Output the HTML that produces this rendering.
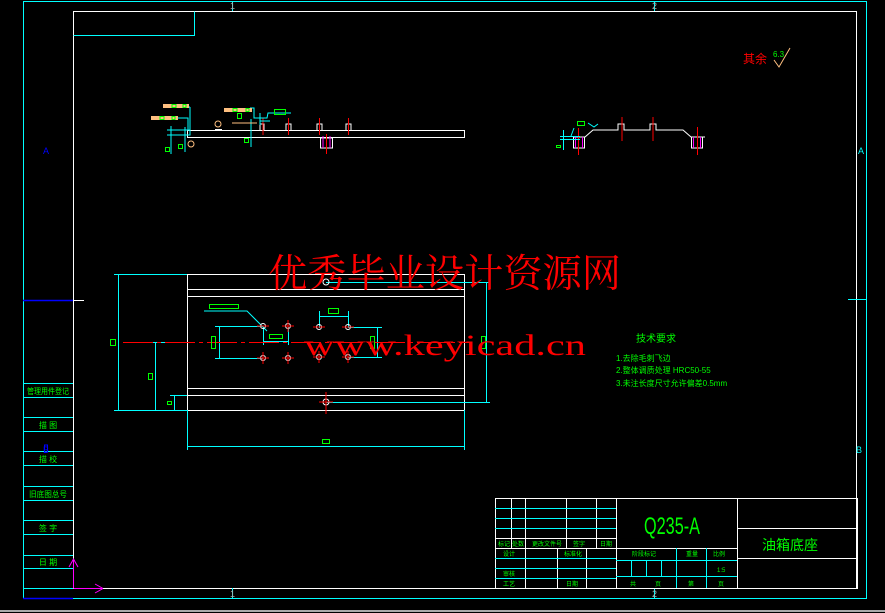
<!DOCTYPE html>
<html><head><meta charset="utf-8"><style>
html,body{margin:0;padding:0;background:#000;width:885px;height:613px;overflow:hidden}
svg{display:block;font-family:"Liberation Sans","Noto Sans CJK SC",sans-serif}
</style></head><body>
<svg width="885" height="613" viewBox="0 0 885 613" xmlns="http://www.w3.org/2000/svg">
<rect width="885" height="613" fill="#000"/>
<rect x="23.5" y="1.5" width="843" height="597" fill="none" stroke="#00ffff" stroke-width="1"/>
<rect x="73.5" y="11.5" width="783" height="577" fill="none" stroke="#fff" stroke-width="1"/>
<polyline points="73.5,35.5 194.5,35.5 194.5,11.5" fill="none" stroke="#00ffff"/>
<line x1="0" y1="611" x2="885" y2="611" stroke="#aaa" stroke-width="2"/>
<line x1="23" y1="300.5" x2="73" y2="300.5" stroke="#0000ff" stroke-width="1.5"/>
<line x1="73" y1="300.5" x2="84" y2="300.5" stroke="#fff"/>
<line x1="848" y1="299.5" x2="867" y2="299.5" stroke="#00ffff"/>
<line x1="232.5" y1="1" x2="232.5" y2="11" stroke="#00ffff"/>
<line x1="654.5" y1="1" x2="654.5" y2="11" stroke="#00ffff"/>
<line x1="232.5" y1="588" x2="232.5" y2="598" stroke="#00ffff"/>
<line x1="654.5" y1="588" x2="654.5" y2="598" stroke="#00ffff"/>
<line x1="23" y1="598.5" x2="73" y2="598.5" stroke="#0000ff" stroke-width="1.5"/>
<g fill="#aaa" font-size="9"><text x="230" y="9">1</text><text x="652" y="9">2</text><text x="230" y="597">1</text><text x="652" y="597">2</text></g>
<g fill="#0000ff" font-size="9"><text x="43" y="154">A</text><text x="43" y="453">B</text></g>
<g fill="#00ffff" font-size="9"><text x="858" y="154">A</text><text x="856" y="453">B</text></g>
<g stroke="#00ffff" fill="none">
<line x1="23" y1="383.5" x2="73" y2="383.5"/><line x1="23" y1="397.5" x2="73" y2="397.5"/>
<line x1="23" y1="417.5" x2="73" y2="417.5"/><line x1="23" y1="431.5" x2="73" y2="431.5"/>
<line x1="23" y1="451.5" x2="73" y2="451.5"/><line x1="23" y1="465.5" x2="73" y2="465.5"/>
<line x1="23" y1="486.5" x2="73" y2="486.5"/><line x1="23" y1="500.5" x2="73" y2="500.5"/>
<line x1="23" y1="520.5" x2="73" y2="520.5"/><line x1="23" y1="534.5" x2="73" y2="534.5"/>
<line x1="23" y1="555.5" x2="73" y2="555.5"/><line x1="23" y1="568.5" x2="73" y2="568.5"/>
<line x1="23" y1="588.5" x2="73" y2="588.5"/>
</g>
<g fill="#00ff00" font-size="8" text-anchor="middle">
<text x="48" y="394" textLength="42" lengthAdjust="spacingAndGlyphs">管理用件登记</text><text x="48" y="428">描  图</text><text x="48" y="462">描  校</text>
<text x="48" y="497" textLength="38" lengthAdjust="spacingAndGlyphs">旧底图总号</text><text x="48" y="531">签  字</text><text x="48" y="565">日  期</text>
</g>
<rect x="44.5" y="445" width="3" height="7" fill="none" stroke="#0000ff"/>
<g stroke="#ff00ff" fill="none"><line x1="73.5" y1="560" x2="73.5" y2="588"/><line x1="73.5" y1="588.5" x2="103" y2="588.5"/>
<polyline points="69,567 73.5,559 78,567"/><polyline points="95,584 103,588.5 95,593"/></g>
<line x1="103" y1="588.5" x2="115" y2="588.5" stroke="#fff"/>
<text x="743" y="63" fill="#ff0000" font-size="12">其余</text>
<text x="773" y="57" fill="#00ff00" font-size="8">6.3</text>
<polyline points="774,60 779,67 790,48" fill="none" stroke="#ffc080"/>
<g stroke="#fff" fill="none">
<rect x="187.5" y="130.5" width="277" height="7"/>
<polyline points="260,130.5 260,124 264,124 264,130.5"/>
<polyline points="286,130.5 286,124 291,124 291,130.5"/>
<polyline points="317,130.5 317,124 322,124 322,130.5"/>
<polyline points="346,130.5 346,124 351,124 351,130.5"/>
<rect x="320.5" y="138" width="12" height="10"/>
</g>
<g stroke="#ff0000"><line x1="263" y1="118" x2="263" y2="135"/><line x1="288.5" y1="118" x2="288.5" y2="135"/><line x1="319.5" y1="118" x2="319.5" y2="135"/><line x1="348.5" y1="118" x2="348.5" y2="135"/><line x1="326.5" y1="134" x2="326.5" y2="154"/></g>
<g stroke="#ff00ff"><line x1="323" y1="136" x2="323" y2="148"/><line x1="330" y1="136" x2="330" y2="148"/></g>
<g stroke="#00ffff" fill="none">
<polyline points="190,107 190,135 167,135"/><line x1="167" y1="130" x2="190" y2="130"/>
<line x1="171" y1="126" x2="171" y2="154"/><line x1="185" y1="127" x2="185" y2="152"/>
<polyline points="190,107 176,107"/>
<polyline points="188,130 188,118 178,118"/><line x1="168" y1="118" x2="188" y2="118"/>
<polyline points="250,108 254,108 254,118 267,118 268,113 291,113"/>
<line x1="251" y1="119" x2="251" y2="147"/><line x1="260" y1="113" x2="260" y2="125"/>
<line x1="260" y1="121" x2="270" y2="121"/>
</g>
<g fill="#ffc080"><rect x="163" y="104" width="26" height="4"/><rect x="151" y="116" width="27" height="4"/><rect x="224" y="108" width="28" height="4"/></g>
<g fill="none" stroke="#00ff00"><rect x="172" y="104.5" width="4" height="3"/><rect x="183" y="104.5" width="3" height="3"/><rect x="160" y="116.5" width="4" height="3"/><rect x="172" y="116.5" width="3" height="3"/><rect x="233" y="108.5" width="4" height="3"/><rect x="246" y="108.5" width="3" height="3"/>
<rect x="274.5" y="109.5" width="11" height="5"/><rect x="237.5" y="113.5" width="4" height="5"/><rect x="165.5" y="147.5" width="4" height="4"/><rect x="178.5" y="144.5" width="4" height="4"/><rect x="244.5" y="138.5" width="4" height="4"/></g>
<line x1="232" y1="123" x2="257" y2="123" stroke="#ffc080"/>
<circle cx="218" cy="124" r="3" fill="none" stroke="#ffc080"/><line x1="215" y1="129.5" x2="222" y2="129.5" stroke="#fff"/>
<circle cx="191" cy="144" r="3" fill="none" stroke="#ffc080"/>
<g stroke="#fff" fill="none" stroke-width="1">
<polyline points="573,137 585,137 593,130 618,130 618,124 624,124 624,130 650,130 650,124 656,124 656,130 683,130 691,137 705,137"/>
<rect x="573.5" y="137" width="11" height="11"/><rect x="691.5" y="137" width="11" height="11"/>
</g>
<g stroke="#ff0000"><line x1="622" y1="117" x2="622" y2="141"/><line x1="653" y1="117" x2="653" y2="141"/><line x1="578.5" y1="128" x2="578.5" y2="155"/><line x1="697.5" y1="127" x2="697.5" y2="155"/></g>
<g stroke="#ff00ff"><line x1="575.5" y1="137" x2="575.5" y2="148"/><line x1="582.5" y1="137" x2="582.5" y2="148"/><line x1="693.5" y1="137" x2="693.5" y2="148"/><line x1="700.5" y1="137" x2="700.5" y2="148"/></g>
<g stroke="#00ffff" fill="none"><line x1="560" y1="136.5" x2="580" y2="136.5"/><line x1="560" y1="139.5" x2="580" y2="139.5"/><line x1="563.5" y1="130" x2="563.5" y2="150"/><polyline points="571,136 574,128"/><polyline points="588,123 594,127 598,124"/></g>
<rect x="577.5" y="121.5" width="7" height="4" fill="none" stroke="#00ff00"/><rect x="556.5" y="145.5" width="4" height="2" fill="none" stroke="#00ff00"/>
<g stroke="#fff" fill="none">
<line x1="187.5" y1="274" x2="187.5" y2="410"/><line x1="464.5" y1="274" x2="464.5" y2="410"/>
<line x1="187" y1="274.5" x2="465" y2="274.5"/><line x1="187" y1="289.5" x2="465" y2="289.5"/><line x1="187" y1="296.5" x2="465" y2="296.5"/>
<line x1="187" y1="388.5" x2="465" y2="388.5"/><line x1="187" y1="395.5" x2="465" y2="395.5"/><line x1="187" y1="410.5" x2="465" y2="410.5"/>
</g>
<g stroke="#00ffff" fill="none">
<line x1="114" y1="274.5" x2="187" y2="274.5"/><line x1="118.5" y1="275" x2="118.5" y2="410"/><line x1="114" y1="410.5" x2="187" y2="410.5"/>
<line x1="151" y1="342.5" x2="187" y2="342.5"/><line x1="155.5" y1="342" x2="155.5" y2="410"/>
<line x1="170" y1="395.5" x2="187" y2="395.5"/><line x1="174.5" y1="395" x2="174.5" y2="410"/>
<line x1="187.5" y1="410" x2="187.5" y2="450"/><line x1="464.5" y1="410" x2="464.5" y2="450"/><line x1="187" y1="446.5" x2="465" y2="446.5"/>
<line x1="326" y1="282.5" x2="490" y2="282.5"/><line x1="486.5" y1="282" x2="486.5" y2="402"/><line x1="326" y1="402.5" x2="490" y2="402.5"/>
<polyline points="204,311 247,311 267,331"/>
<polyline points="215,326.5 263,326.5"/><line x1="219.5" y1="326" x2="219.5" y2="358"/><line x1="215" y1="358.5" x2="263" y2="358.5"/>
<line x1="263.5" y1="327" x2="263.5" y2="345"/><line x1="288.5" y1="327" x2="288.5" y2="345"/><line x1="263" y1="341.5" x2="289" y2="341.5"/>
<line x1="319.5" y1="311" x2="319.5" y2="328"/><line x1="348.5" y1="311" x2="348.5" y2="328"/><line x1="319" y1="316.5" x2="349" y2="316.5"/>
<line x1="348" y1="327.5" x2="382" y2="327.5"/><line x1="377.5" y1="327" x2="377.5" y2="357"/><line x1="348" y1="357.5" x2="382" y2="357.5"/>
</g>
<line x1="123" y1="342.5" x2="470" y2="342.5" stroke="#ff0000" stroke-dasharray="30,4,4,4"/>
<g fill="none" stroke="#00ff00">
<rect x="110.5" y="339.5" width="5" height="6"/><rect x="148.5" y="373.5" width="4" height="6"/><rect x="167.5" y="401.5" width="4" height="3"/>
<rect x="209.5" y="304.5" width="29" height="4"/><rect x="269.5" y="334.5" width="13" height="4"/><rect x="328.5" y="308.5" width="10" height="5"/>
<rect x="211.5" y="336.5" width="4" height="12"/><rect x="370.5" y="336.5" width="4" height="12"/><rect x="481.5" y="336.5" width="4" height="12"/><rect x="322.5" y="439.5" width="7" height="4"/>
</g>
<g fill="none" stroke="#fff">
<circle cx="263" cy="326" r="2.5"/><circle cx="288" cy="326" r="2.5"/><circle cx="263" cy="358" r="2.5"/><circle cx="288" cy="358" r="2.5"/>
<circle cx="319" cy="327" r="2.5"/><circle cx="348" cy="327" r="2.5"/><circle cx="319" cy="357" r="2.5"/><circle cx="348" cy="357" r="2.5"/>
<circle cx="326" cy="282" r="3"/><circle cx="326" cy="402" r="3"/>
</g>
<g stroke="#ff0000">
<line x1="257" y1="326" x2="269" y2="326"/><line x1="282" y1="326" x2="294" y2="326"/><line x1="257" y1="358" x2="269" y2="358"/><line x1="282" y1="358" x2="294" y2="358"/>
<line x1="313" y1="327" x2="325" y2="327"/><line x1="342" y1="327" x2="354" y2="327"/><line x1="313" y1="357" x2="325" y2="357"/><line x1="342" y1="357" x2="354" y2="357"/>
<line x1="288" y1="320" x2="288" y2="332"/><line x1="263" y1="352" x2="263" y2="364"/><line x1="288" y1="352" x2="288" y2="364"/><line x1="319" y1="351" x2="319" y2="363"/><line x1="348" y1="351" x2="348" y2="363"/>
<line x1="326" y1="392" x2="326" y2="414"/><line x1="319" y1="402" x2="333" y2="402"/>
</g>
<g fill="#00ff00" font-size="8">
<text x="636" y="342" font-size="10">技术要求</text>
<text x="616" y="361">1.去除毛刺飞边</text>
<text x="616" y="373">2.整体调质处理 HRC50-55</text>
<text x="616" y="386">3.未注长度尺寸允许偏差0.5mm</text>
</g>
<g stroke="#fff" fill="none">
<rect x="495.5" y="498.5" width="362" height="90"/>
<line x1="616.5" y1="498" x2="616.5" y2="588"/><line x1="737.5" y1="498" x2="737.5" y2="588"/>
<line x1="495" y1="538.5" x2="616" y2="538.5"/><line x1="495" y1="548.5" x2="737" y2="548.5"/>
<line x1="737" y1="528.5" x2="857" y2="528.5"/><line x1="737" y1="558.5" x2="857" y2="558.5"/>
<line x1="511.5" y1="498" x2="511.5" y2="548"/><line x1="525.5" y1="498" x2="525.5" y2="588"/>
<line x1="566.5" y1="498" x2="566.5" y2="548"/><line x1="596.5" y1="498" x2="596.5" y2="548"/>
<line x1="557.5" y1="548" x2="557.5" y2="588"/><line x1="586.5" y1="548" x2="586.5" y2="588"/>
</g>
<g stroke="#00ffff" fill="none">
<line x1="495" y1="508.5" x2="616" y2="508.5"/><line x1="495" y1="518.5" x2="616" y2="518.5"/><line x1="495" y1="528.5" x2="616" y2="528.5"/>
<line x1="495" y1="558.5" x2="616" y2="558.5"/><line x1="495" y1="568.5" x2="616" y2="568.5"/><line x1="495" y1="578.5" x2="616" y2="578.5"/>
<line x1="616" y1="560.5" x2="737" y2="560.5"/><line x1="616" y1="576.5" x2="737" y2="576.5"/>
<line x1="631.5" y1="560" x2="631.5" y2="576"/><line x1="646.5" y1="560" x2="646.5" y2="576"/><line x1="661.5" y1="560" x2="661.5" y2="576"/>
<line x1="676.5" y1="548" x2="676.5" y2="588"/><line x1="706.5" y1="548" x2="706.5" y2="588"/>
</g>
<text x="644" y="534" fill="#00ff00" font-size="24" textLength="56" lengthAdjust="spacingAndGlyphs">Q235-A</text>
<text x="762" y="550" fill="#00ff00" font-size="14">油箱底座</text>
<g fill="#00ff00" font-size="6">
<text x="498" y="546">标记</text><text x="512" y="546">处数</text><text x="532" y="546">更改文件号</text><text x="573" y="546">签字</text><text x="600" y="546">日期</text>
<text x="503" y="556">设计</text><text x="564" y="556">标准化</text><text x="503" y="576">审核</text><text x="503" y="586">工艺</text><text x="566" y="586">日期</text>
<text x="632" y="556">阶段标记</text><text x="686" y="556">重量</text><text x="713" y="556">比例</text><text x="717" y="572">1:5</text>
<text x="630" y="586">共</text><text x="655" y="586">页</text><text x="688" y="586">第</text><text x="718" y="586">页</text>
</g>
<text x="268" y="287" fill="#ff0000" font-size="39" style="font-family:'Liberation Serif','Noto Serif CJK SC',serif" textLength="353" lengthAdjust="spacingAndGlyphs">优秀毕业设计资源网</text>
<text x="304" y="355" fill="#ff0000" font-size="30" style="font-family:'Liberation Serif',serif" textLength="282" lengthAdjust="spacingAndGlyphs">www.keyicad.cn</text>
</svg>
</body></html>
